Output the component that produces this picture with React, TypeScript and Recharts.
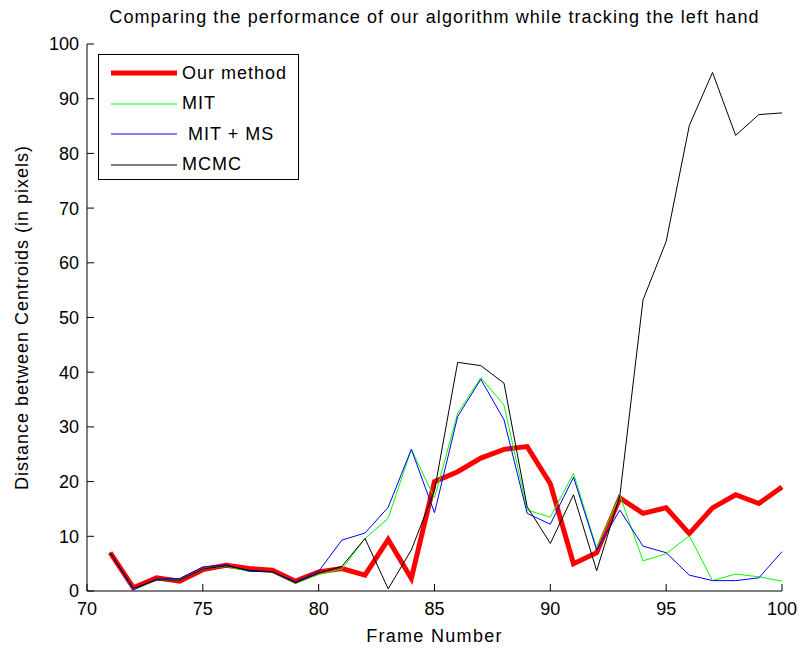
import { LineChart, Line, XAxis, YAxis, Legend } from "recharts";

const FRAMES = [
  71, 72, 73, 74, 75, 76, 77, 78, 79, 80,
  81, 82, 83, 84, 85, 86, 87, 88, 89, 90,
  91, 92, 93, 94, 95, 96, 97, 98, 99, 100,
];

const OUR_METHOD = [
  7.0, 0.6, 2.4, 1.8, 3.9, 4.7, 4.1, 3.8, 1.8, 3.5,
  4.1, 2.9, 9.4, 2.3, 20.0, 21.8, 24.3, 25.9, 26.4, 19.6,
  5.0, 7.0, 17.0, 14.2, 15.2, 10.5, 15.2, 17.6, 16.0, 19.0,
];

const MIT = [
  7.0, 0.3, 2.0, 2.0, 4.0, 4.5, 3.6, 3.5, 1.4, 3.0,
  4.0, 9.6, 13.3, 25.9, 17.0, 32.5, 39.0, 34.0, 14.8, 13.5,
  21.5, 7.8, 17.5, 5.5, 6.8, 10.1, 1.9, 3.1, 2.6, 1.8,
];

const MIT_MS = [
  7.0, 0.2, 2.2, 2.3, 4.4, 4.8, 3.6, 3.5, 1.7, 3.6,
  9.3, 10.6, 15.3, 25.9, 14.3, 31.9, 38.7, 31.3, 14.2, 12.2,
  20.8, 7.5, 14.8, 8.2, 7.0, 2.9, 1.9, 1.9, 2.4, 7.2,
];

const MCMC = [
  7.0, 0.5, 2.0, 2.0, 4.0, 4.6, 3.8, 3.5, 1.5, 3.3,
  4.5, 9.6, 0.4, 7.5, 18.4, 41.8, 41.2, 38.0, 15.4, 8.7,
  17.6, 3.7, 17.4, 53.2, 63.9, 85.1, 94.8, 83.3, 87.1, 87.4,
];

const X_TICKS = [70, 75, 80, 85, 90, 95, 100];
const Y_TICKS = [0, 10, 20, 30, 40, 50, 60, 70, 80, 90, 100];

const TITLE = "Comparing the performance of our algorithm while tracking the left hand";
const X_LABEL = "Frame Number";
const Y_LABEL = "Distance between Centroids (in pixels)";

const FONT = '"Liberation Sans", Arial, sans-serif';
const TICK_LEN = 7;

const data = FRAMES.map((frame, i) => ({
  frame,
  ours: OUR_METHOD[i],
  mit: MIT[i],
  mitMs: MIT_MS[i],
  mcmc: MCMC[i],
}));

const SERIES = [
  { key: "ours", name: "Our method", color: "#ff0000", width: 5 },
  { key: "mit", name: "MIT", color: "#00ff00", width: 1 },
  { key: "mitMs", name: " MIT + MS", color: "#0000ff", width: 1 },
  { key: "mcmc", name: "MCMC", color: "#000000", width: 1 },
];

// inward tick marks, MATLAB style
function BottomTick({ x, y, payload }: any) {
  return (
    <g>
      <line x1={x} x2={x} y1={y} y2={y - TICK_LEN} stroke="#000" />
      <text x={x} y={y + 24} textAnchor="middle" fontSize={18} fontFamily={FONT} fill="#000">
        {payload.value}
      </text>
    </g>
  );
}

function TopTick({ x, y }: any) {
  return <line x1={x} x2={x} y1={y} y2={y + TICK_LEN} stroke="#000" />;
}

function LeftTick({ x, y, payload }: any) {
  return (
    <g>
      <line x1={x} x2={x + TICK_LEN} y1={y} y2={y} stroke="#000" />
      <text x={x - 8} y={y} dy="0.36em" textAnchor="end" fontSize={18} fontFamily={FONT} fill="#000">
        {payload.value}
      </text>
    </g>
  );
}

function RightTick({ x, y }: any) {
  return <line x1={x} x2={x - TICK_LEN} y1={y} y2={y} stroke="#000" />;
}

function LegendBox() {
  return (
    <div
      style={{
        border: "1px solid #000",
        background: "#fff",
        width: 201,
        height: 126,
        paddingTop: 3,
        boxSizing: "border-box",
        fontFamily: FONT,
        fontSize: 18,
        letterSpacing: 1,
        color: "#000",
      }}
    >
      {SERIES.map((s) => (
        <div key={s.key} style={{ display: "flex", alignItems: "center", height: 30.5, paddingLeft: 12 }}>
          <svg width={66} height={8}>
            <line x1={0} x2={66} y1={4} y2={4} stroke={s.color} strokeWidth={s.width} />
          </svg>
          <span style={{ marginLeft: 5, whiteSpace: "pre" }}>{s.name}</span>
        </div>
      ))}
    </div>
  );
}

export default function App() {
  return (
    <div style={{ position: "absolute", left: 0, top: 0, width: 800, height: 652, background: "#fff" }}>
      <div
        style={{
          position: "absolute",
          left: 87,
          width: 695,
          top: 6,
          textAlign: "center",
          fontFamily: FONT,
          fontSize: 18,
          letterSpacing: 1.1,
          lineHeight: "22px",
          color: "#000",
          whiteSpace: "nowrap",
        }}
      >
        {TITLE}
      </div>
      <LineChart width={800} height={652} data={data} margin={{ top: 44, right: 18, bottom: 0, left: 0 }}>
        <XAxis
          dataKey="frame"
          type="number"
          domain={[70, 100]}
          ticks={X_TICKS}
          height={61}
          tickSize={0}
          tickMargin={0}
          tickLine={false}
          tick={<BottomTick />}
          axisLine={{ stroke: "#000" }}
          label={{ value: X_LABEL, position: "insideBottom", offset: 10, fill: "#000", fontSize: 18, fontFamily: FONT, letterSpacing: 1.3 }}
        />
        <XAxis
          xAxisId="top"
          orientation="top"
          dataKey="frame"
          type="number"
          domain={[70, 100]}
          ticks={X_TICKS}
          height={0}
          tickSize={0}
          tickMargin={0}
          tickLine={false}
          tick={<TopTick />}
          axisLine={{ stroke: "#000" }}
        />
        <YAxis
          type="number"
          domain={[0, 100]}
          ticks={Y_TICKS}
          width={87}
          tickSize={0}
          tickMargin={0}
          tickLine={false}
          tick={<LeftTick />}
          axisLine={{ stroke: "#000" }}
          label={{
            value: Y_LABEL,
            position: "insideLeft",
            angle: -90,
            offset: 22,
            fill: "#000",
            fontSize: 18,
            fontFamily: FONT,
            letterSpacing: 1,
            style: { textAnchor: "middle" },
          }}
        />
        <YAxis
          yAxisId="right"
          orientation="right"
          type="number"
          domain={[0, 100]}
          ticks={Y_TICKS}
          width={0}
          tickSize={0}
          tickMargin={0}
          tickLine={false}
          tick={<RightTick />}
          axisLine={{ stroke: "#000" }}
        />
        <Legend
          layout="horizontal"
          verticalAlign="middle"
          align="center"
          wrapperStyle={{ left: 98, top: 54, width: "auto" }}
          content={() => <LegendBox />}
        />
        {SERIES.map((s) => (
          <Line
            key={s.key}
            dataKey={s.key}
            name={s.name}
            type="linear"
            stroke={s.color}
            strokeWidth={s.width}
            dot={false}
            activeDot={false}
            isAnimationActive={false}
          />
        ))}
      </LineChart>
    </div>
  );
}
